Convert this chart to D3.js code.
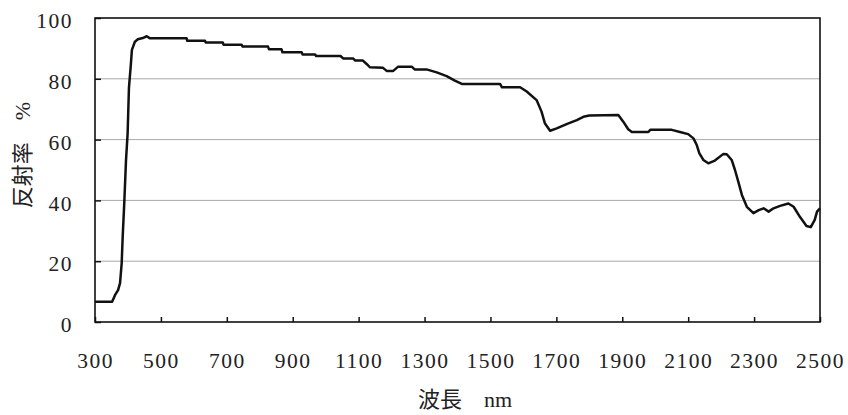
<!DOCTYPE html>
<html><head><meta charset="utf-8">
<script src="https://cdn.jsdelivr.net/npm/d3@7"></script>
<style>
html,body{margin:0;padding:0;background:#fff;}
svg{display:block;}
</style>
</head><body>
<svg id="chart" width="848" height="415"></svg>
<script>
const wavelength = [300,352,361,370,376,381,384,389,394,399,403,409,412,421,430,445,457,467,578,580,634,636,688,690,745,748,825,828,866,869,927,930,968,971,1045,1053,1083,1090,1113,1125,1134,1174,1185,1205,1220,1261,1270,1306,1337,1367,1392,1413,1529,1535,1590,1610,1640,1655,1665,1681,1701,1731,1762,1782,1800,1888,1903,1918,1929,1979,1985,2050,2075,2100,2116,2126,2134,2146,2161,2181,2207,2217,2232,2242,2252,2263,2278,2298,2314,2329,2344,2359,2379,2404,2420,2439,2459,2472,2484,2491,2500];
const reflectance = [6.7,6.7,8.9,10.5,12.8,19.4,28,39.6,53,62,77,85,89.5,92.2,93,93.4,94,93.3,93.3,92.5,92.5,91.9,91.9,91.2,91.2,90.6,90.6,89.7,89.7,88.7,88.7,88.0,88.0,87.5,87.5,86.7,86.7,86.0,86.0,84.8,83.8,83.6,82.6,82.6,84.0,84.0,83.1,83.1,82.1,80.9,79.4,78.3,78.3,77.2,77.2,75.8,73.0,69.2,65.4,62.9,63.7,65.1,66.4,67.5,67.9,68.1,65.9,63.4,62.5,62.5,63.2,63.2,62.5,61.8,60.4,58.2,55.5,53.3,52.2,53.1,55.3,55.2,53.3,50.0,46.2,41.8,37.9,35.8,36.8,37.4,36.3,37.4,38.2,39.0,37.9,34.6,31.6,31.2,33.6,36.3,37.4];
const xTicks = [300,500,700,900,1100,1300,1500,1700,1900,2100,2300,2500];
const yTicks = [0,20,40,60,80,100];
const xTitle = "波長\u2003nm";
const yTitle = "反射率\u2003%";

const svg = d3.select("#chart");
const L = 95, R = 820, T = 18, B = 322;
const x = d3.scaleLinear().domain([300,2500]).range([L,R]);
const y = d3.scaleLinear().domain([0,100]).range([B,T]);
const numFont = "'Liberation Serif','Times New Roman',serif";
const cjkFont = "'Liberation Serif','Noto Sans CJK JP',serif";

// gridlines
svg.append("g").selectAll("line").data(yTicks.filter(d=>d>0 && d<100)).join("line")
  .attr("x1",L).attr("x2",R).attr("y1",d=>y(d)).attr("y2",d=>y(d))
  .attr("stroke","#a8a8a8").attr("stroke-width",1);

// x axis (ticks inward)
const xAxis = svg.append("g").attr("transform",`translate(0,${B})`)
  .call(d3.axisBottom(x).tickValues(xTicks).tickSize(-5).tickPadding(0).tickFormat(d3.format("d")));
xAxis.select(".domain").remove();
xAxis.selectAll(".tick line").attr("stroke","#111").attr("stroke-width",1.5);
xAxis.selectAll(".tick text").attr("y",46).attr("dy",null)
  .attr("font-family",numFont).attr("font-size",21.5).attr("letter-spacing",1.5).attr("fill","#222");

// y axis (ticks inward)
const yAxis = svg.append("g").attr("transform",`translate(${L},0)`)
  .call(d3.axisLeft(y).tickValues(yTicks).tickSize(-6).tickPadding(0));
yAxis.select(".domain").remove();
yAxis.selectAll(".tick line").attr("stroke","#111").attr("stroke-width",1.5);
yAxis.selectAll(".tick text").attr("x",-22).attr("dy","0.45em")
  .attr("font-family",numFont).attr("font-size",21.5).attr("letter-spacing",1.5).attr("fill","#222");

// frame
svg.append("rect").attr("x",L).attr("y",T).attr("width",R-L).attr("height",B-T)
  .attr("fill","none").attr("stroke","#111").attr("stroke-width",1.6);

// curve
const data = wavelength.map((w,i)=>({w, r: reflectance[i]}));
svg.append("path").datum(data)
  .attr("fill","none").attr("stroke","#111").attr("stroke-width",2.5).attr("stroke-linejoin","round")
  .attr("d", d3.line().x(d=>x(d.w)).y(d=>y(d.r)));

// titles
svg.append("text").attr("x",465).attr("y",407).attr("text-anchor","middle")
  .attr("font-family",cjkFont).attr("font-size",22).attr("fill","#222").text(xTitle);
svg.append("text").attr("transform","translate(30,155) rotate(-90)").attr("text-anchor","middle")
  .attr("font-family",cjkFont).attr("font-size",22).attr("fill","#222").text(yTitle);
</script>
</body></html>
